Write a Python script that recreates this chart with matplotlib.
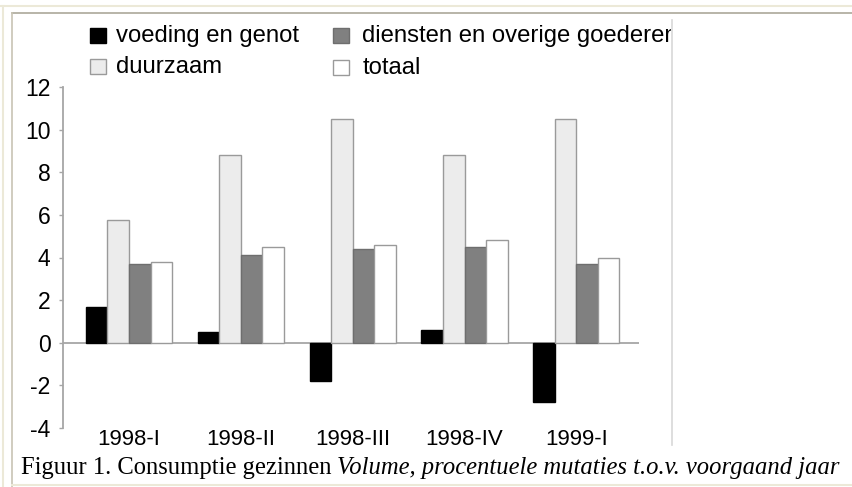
import matplotlib
matplotlib.use("Agg")
import matplotlib.pyplot as plt
from matplotlib.patches import Rectangle
import numpy as np

# data
kwartalen = ['1998-I', '1998-II', '1998-III', '1998-IV', '1999-I']
voeding = [1.7, 0.5, -1.8, 0.6, -2.8]
duurzaam = [5.75, 8.8, 10.5, 8.8, 10.5]
diensten = [3.7, 4.1, 4.4, 4.5, 3.7]
totaal = [3.8, 4.5, 4.6, 4.8, 4.0]
reeks_namen = ['voeding en genot', 'duurzaam', 'diensten en overige goederen', 'totaal']

W, H = 853, 487
fig = plt.figure(figsize=(W / 100, H / 100), dpi=100)
fig.patch.set_facecolor('white')

sans = ['Liberation Sans', 'DejaVu Sans']
serif = ['Liberation Serif', 'DejaVu Serif']
grijs = '#a6a6a6'

# chart area
ax = fig.add_axes([63 / W, 1 - 428 / H, (639 - 63) / W, (428 - 87) / H])
x = np.arange(len(kwartalen))
w = 0.1924
stijlen = [
    dict(color='#000000', edgecolor='#000000'),
    dict(color='#ececec', edgecolor='#9a9a9a'),
    dict(color='#808080', edgecolor='#6e6e6e'),
    dict(color='#ffffff', edgecolor='#9a9a9a'),
]
for i, (vals, st) in enumerate(zip([voeding, duurzaam, diensten, totaal], stijlen)):
    ax.bar(x + (i - 1.5) * w, vals, w, linewidth=1, zorder=2, **st)

ax.axhline(0, color=grijs, lw=1.3, zorder=1)
ax.set_xlim(-0.59, 4.56)
ax.set_ylim(-4, 12)
ax.set_yticks(range(-4, 13, 2))
ax.set_yticklabels([str(v) for v in range(-4, 13, 2)], fontsize=16.5, family=sans)
ax.set_xticks(x)
ax.set_xticklabels(kwartalen, fontsize=16, family=sans)
ax.tick_params(axis='x', length=0, pad=1)
ax.tick_params(axis='y', length=3, width=1, color=grijs, pad=6)
for s in ['top', 'right', 'bottom']:
    ax.spines[s].set_visible(False)
ax.spines['left'].set_color(grijs)
ax.spines['left'].set_linewidth(1.3)
ax.set_facecolor('none')

# overlay in pixel coordinates: frame lines, legend, caption
ov = fig.add_axes([0, 0, 1, 1])
ov.set_xlim(0, W)
ov.set_ylim(H, 0)
ov.axis('off')

ov.plot([0, W], [6, 6], color='#ece9d8', lw=1.5)
ov.plot([3, 3], [6, H], color='#ece9d8', lw=1.5)
ov.plot([12, W], [13, 13], color='#aca899', lw=1.2)
ov.plot([12, 12], [13, H], color='#c8c4b4', lw=1.2)
ov.plot([12, W], [485, 485], color='#ece9d8', lw=1.5)
ov.plot([672, 672], [20, 445], color='#d8d8d8', lw=1.2)

clip = Rectangle((0, 0), 671, H, transform=ov.transData, visible=False)
ov.add_patch(clip)

leg_pos = [(90, 28, 116), (90, 59, 116), (333, 28, 362), (333, 60, 363)]
for (mx, my, tx), naam, st in zip(leg_pos, reeks_namen, stijlen):
    ov.add_patch(Rectangle((mx, my), 16, 15, facecolor=st['color'],
                           edgecolor=st['edgecolor'], lw=1))
    t = ov.text(tx, my + 8, naam, fontsize=17.2, family=sans, va='center', ha='left')
    t.set_clip_path(clip)
    t.set_clip_on(True)

cap1 = fig.text(21 / W, 1 - 474 / H, 'Figuur 1. Consumptie gezinnen',
                fontsize=17.75, family=serif, va='baseline', ha='left')
fig.canvas.draw()
bb = cap1.get_window_extent(fig.canvas.get_renderer())
fig.text((bb.x1 + 6) / W, 1 - 474 / H,
         'Volume, procentuele mutaties t.o.v. voorgaand jaar',
         fontsize=17.75, family=serif, style='italic', va='baseline', ha='left')

fig.savefig('out.png', dpi=100)
